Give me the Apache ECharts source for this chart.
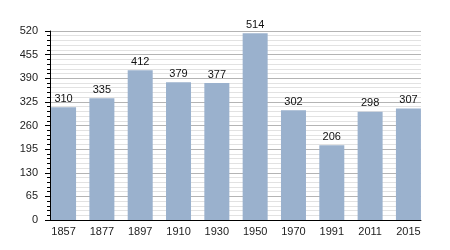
<!DOCTYPE html>
<html><head><meta charset="utf-8">
<script src="https://cdn.jsdelivr.net/npm/echarts@6/dist/echarts.min.js"></script>
<style>html,body{margin:0;padding:0;background:#fff}#c{width:450px;height:250px}</style>
</head><body><div id="c"></div>
<script>
const years = ['1857','1877','1897','1910','1930','1950','1970','1991','2011','2015'];
const population = [310,335,412,379,377,514,302,206,298,307];
const yMin = 0, yMax = 520, yStep = 65;

const font = '"Liberation Sans Narrow", "Liberation Sans", Arial';
const chart = echarts.init(document.getElementById('c'), null, {renderer:'canvas'});
chart.setOption({
  animation:false,
  grid:[{left:50,right:29,top:31,bottom:30},{left:44.4,right:22.4,top:31,bottom:30}],
  xAxis:[
    {type:'category',gridIndex:0,data:years,
     axisLine:{lineStyle:{color:'#000',width:1}},
     axisTick:{show:false},axisLabel:{show:false}},
    {type:'category',gridIndex:1,data:years,
     axisLine:{show:false},axisTick:{show:false},
     axisLabel:{color:'#222',fontSize:11,fontFamily:font,margin:6}}
  ],
  yAxis:[
    {type:'value',gridIndex:0,min:yMin,max:yMax,interval:yStep,
     axisLine:{show:true,lineStyle:{color:'#000',width:1}},
     axisTick:{show:true,length:5,lineStyle:{color:'#000'}},
     minorTick:{show:true,splitNumber:5,length:3,lineStyle:{color:'#000'}},
     splitLine:{show:true,lineStyle:{color:'#b4b4b4',width:1}},
     minorSplitLine:{show:true,lineStyle:{color:'#e2e2e2',width:1}},
     axisLabel:{color:'#222',fontSize:11,fontFamily:font,margin:12}},
    {type:'value',gridIndex:1,min:yMin,max:yMax,interval:yStep,show:false,
     splitLine:{show:false}}
  ],
  series:[{type:'bar',xAxisIndex:1,yAxisIndex:1,data:population,barWidth:25,
    itemStyle:{color:'#9ab1cd'},
    label:{show:true,position:'top',color:'#111',fontSize:11,fontFamily:font,distance:3}}]
});
</script></body></html>
